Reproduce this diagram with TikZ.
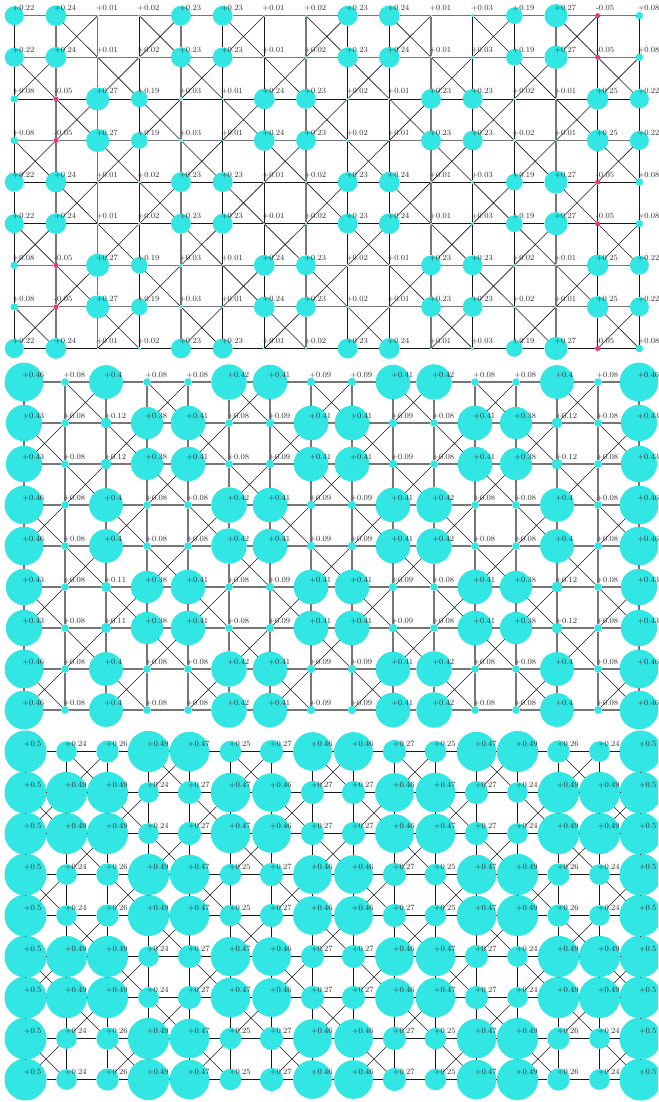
\documentclass[tikz,border=0pt]{standalone}
\usepackage{tikz}
\definecolor{Site}{RGB}{50,230,228}
\definecolor{SiteNeg}{RGB}{234,56,110}
\definecolor{BondGray}{RGB}{118,118,118}
\definecolor{BondDark}{RGB}{25,25,25}
\definecolor{Ink}{RGB}{45,45,45}
\tikzset{
  site/.style={circle,inner sep=0pt,outer sep=0pt,draw=none},
  bondg/.style={draw=BondGray,line width=1.1pt},
  bondk/.style={draw=BondDark,line width=0.6pt},
  cross/.style={draw=BondDark,line width=0.6pt},
  val/.style={anchor=base west,inner sep=0pt,text=Ink,font=\fontsize{8}{10}\selectfont}
}
% site values, one list per row type
\def\topA{0.22,0.24,0.01,0.02,0.23,0.23,0.01,0.02,0.23,0.24,0.01,0.03,0.19,0.27,-0.05,0.08}
\def\topB{0.08,-0.05,0.27,0.19,0.03,0.01,0.24,0.23,0.02,0.01,0.23,0.23,0.02,0.01,0.25,0.22}
\def\midA{0.46,0.08,0.4,0.08,0.08,0.42,0.41,0.09,0.09,0.41,0.42,0.08,0.08,0.4,0.08,0.46}
\def\midB{0.43,0.08,0.12,0.38,0.41,0.08,0.09,0.41,0.41,0.09,0.08,0.41,0.38,0.12,0.08,0.43}
\def\midC{0.43,0.08,0.11,0.38,0.41,0.08,0.09,0.41,0.41,0.09,0.08,0.41,0.38,0.12,0.08,0.43}
\def\botA{0.5,0.24,0.26,0.49,0.47,0.25,0.27,0.46,0.46,0.27,0.25,0.47,0.49,0.26,0.24,0.5}
\def\botB{0.5,0.49,0.49,0.24,0.27,0.47,0.46,0.27,0.27,0.46,0.47,0.27,0.24,0.49,0.49,0.5}
% #1 name, #2 #3 first site, #4 #5 spacing, #6 row types, #7 row bonds, #8 column bonds
\newcommand\lattice[8]{%
  \foreach \t [count=\r from 0] in {#6} {
    \edef\rowvals{\csname #1\t\endcsname}
    \foreach \v [count=\c from 0] in \rowvals {
      \pgfmathsetmacro\rad{2*(41*abs(\v)+0.5)}
      \ifdim\v pt<0pt \def\fillc{SiteNeg}\else\def\fillc{Site}\fi
      \node[site,fill=\fillc,minimum size=\rad pt] (#1-\r-\c) at (#2+#4*\c,#3+#5*\r) {};
    }
  }
  \foreach \hc [count=\r from 0] in {#7} {
    \if g\hc \tikzset{bondnow/.style={bondg}}\else\tikzset{bondnow/.style={bondk}}\fi
    \foreach \c in {0,...,14} {
      \pgfmathtruncatemacro\cc{\c+1}
      \draw[bondnow] (#1-\r-\c) -- (#1-\r-\cc);
    }
  }
  \foreach \vc [count=\c from 0] in {#8} {
    \if g\vc \tikzset{bondnow/.style={bondg}}\else\tikzset{bondnow/.style={bondk}}\fi
    \foreach \r in {0,...,7} {
      \pgfmathtruncatemacro\rr{\r+1}
      \draw[bondnow] (#1-\r-\c) -- (#1-\rr-\c);
    }
  }
  % crossed plaquettes
  \foreach \r in {0,...,7}
    \foreach \c in {0,...,14} {
      \pgfmathtruncatemacro\odd{mod(\r+\c,2)}
      \ifnum\odd=1
        \pgfmathtruncatemacro\rr{\r+1}\pgfmathtruncatemacro\cc{\c+1}
        \draw[cross] (#1-\r-\c) -- (#1-\rr-\cc) (#1-\r-\cc) -- (#1-\rr-\c);
      \fi
    }
  \foreach \t [count=\r from 0] in {#6} {
    \edef\rowvals{\csname #1\t\endcsname}
    \foreach \v [count=\c from 0] in \rowvals {
      \ifdim\v pt<0pt \def\sgn{}\else\def\sgn{+}\fi
      \node[val] (#1-\r-\c-v) at ([xshift=-1.8pt,yshift=5pt]#1-\r-\c.center) {\sgn\v};
    }
  }
}

\begin{document}
\begin{tikzpicture}[x=1pt,y=-1pt]
\clip (0,0) rectangle (658,1102);
\lattice{top}{14.3}{15.7}{41.67}{41.6}{A,A,B,B,A,A,B,B,A}
  {g,g,k,g,k,k,g,g,k}{k,g,g,k,g,k,k,g,k,k,g,k,k,g,k,k}
\lattice{mid}{24}{382}{41}{41}{A,B,B,A,A,C,C,A,A}
  {g,g,g,g,g,g,g,g,g}{g,g,g,g,g,g,g,g,g,g,g,g,g,g,g,g}
\lattice{bot}{25.5}{751.5}{41}{41}{A,B,B,A,A,B,B,A,A}
  {k,k,k,k,k,k,k,k,k}{k,k,k,k,k,k,k,k,k,k,k,k,k,k,k,k}
\end{tikzpicture}
\end{document}
